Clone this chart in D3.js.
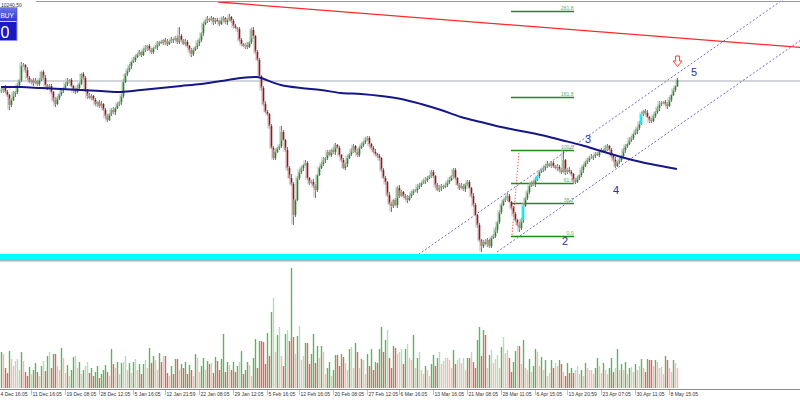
<!DOCTYPE html>
<html><head><meta charset="utf-8">
<script src="https://cdn.jsdelivr.net/npm/d3@7"></script>
<style>body{margin:0;background:#fff}svg{display:block}</style>
</head><body><svg id="c" width="800" height="400"></svg>
<script>
// ---------------- DATA ----------------
const firstOpen = 10130;
const closes = [
10140,10160,10120,10090,9990,10040,10100,10120,10190,10240,
10380,10390,10340,10260,10220,10240,10210,10230,10200,10240,
10320,10260,10190,10160,10180,10120,10040,10000,10060,10100,
10140,10160,10200,10230,10240,10180,10140,10120,10160,10200,
10300,10260,10140,10080,10060,10080,10040,10000,10020,9980,
10000,9940,9880,9840,9900,9940,9920,9960,10000,10020,
10080,10220,10300,10340,10380,10420,10440,10470,10500,10520,
10490,10540,10560,10580,10540,10520,10560,10570,10600,10620,
10610,10640,10620,10600,10630,10650,10640,10660,10620,10680,
10640,10600,10620,10580,10540,10500,10540,10570,10610,10640,
10710,10800,10830,10850,10840,10860,10820,10840,10830,10800,
10840,10860,10820,10840,10870,10830,10780,10760,10750,10640,
10600,10580,10590,10570,10620,10740,10680,10520,10440,10280,
10160,10000,9920,9900,9780,9560,9460,9520,9560,9580,
9720,9640,9540,9360,9260,9200,8890,9040,9260,9320,
9360,9390,9410,9260,9210,9220,9180,9140,9290,9360,
9400,9440,9460,9520,9490,9540,9520,9590,9560,9490,
9440,9360,9400,9460,9500,9540,9580,9520,9490,9560,
9590,9620,9640,9660,9600,9560,9520,9500,9480,9460,
9340,9260,9220,9090,9000,8980,9040,8990,9160,9080,
9120,9080,9060,9040,9080,9110,9130,9140,9170,9190,
9210,9230,9240,9260,9280,9320,9280,9190,9140,9160,
9180,9170,9190,9220,9240,9280,9340,9260,9190,9160,
9180,9150,9200,9220,9160,9080,8990,8890,8790,8640,
8580,8620,8600,8640,8580,8660,8680,8740,8820,8920,
8990,9040,9060,9080,9020,8960,8900,8840,8790,8760,
8840,8980,9060,9120,9180,9220,9200,9240,9280,9320,
9340,9360,9380,9400,9380,9410,9380,9360,9370,9340,
9320,9440,9320,9340,9320,9300,9240,9220,9260,9290,
9340,9380,9420,9440,9460,9470,9480,9500,9490,9520,
9540,9530,9560,9580,9540,9480,9440,9380,9420,9440,
9480,9540,9580,9600,9640,9660,9700,9730,9760,9800,
9900,9930,9910,9870,9840,9830,9880,9920,9960,10000,
10010,10020,10000,9980,10040,10090,10140,10180,10240];
const wickUp = [
20,10,30,20,10,20,30,10,20,10, 40,20,10,30,20,10,20,30,10,20,
10,20,30,10,20,20,10,30,20,10, 20,10,20,30,10,20,10,20,30,20,
10,20,20,10,30,20,10,20,10,20, 30,10,20,20,10,20,30,10,20,10,
20,30,10,20,20,10,30,20,10,20, 10,20,30,10,20,20,10,20,30,10,
20,10,20,30,10,20,10,20,30,90, 20,10,30,20,10,20,20,10,30,20,
10,20,20,30,10,20,10,20,20,10, 30,20,10,20,30,10,20,20,10,20,
20,10,20,30,10,20,30,10,20,20, 10,20,30,20,10,20,20,30,10,20,
60,20,10,30,20,40,20,10,20,30, 20,10,30,20,10,20,30,20,10,20,
20,30,10,20,20,10,30,20,10,20, 10,20,20,30,10,20,20,10,30,20,
20,10,30,20,20,10,20,30,10,20, 10,20,20,10,30,20,10,20,20,30,
20,10,20,30,10,20,20,10,30,20, 10,20,30,20,10,20,20,10,20,30,
20,10,20,20,30,10,20,20,10,20, 30,20,10,20,20,10,30,20,10,20,
10,20,30,20,10,20,20,30,10,20, 20,10,20,30,20,10,20,20,10,30,
20,30,10,20,20,10,20,30,10,20, 10,20,20,30,10,20,20,10,30,20,
20,100,10,20,30,20,10,20,20,10, 30,20,10,20,20,30,10,20,20,10,
20,10,30,20,10,20,20,30,10,20, 10,20,20,10,30,20,10,20,20,30,
20,10,20,30,10,20,20,10,20,30, 20,10,20,20,30,10,20,10,20];
const wickDn = [
20,30,10,20,50,20,10,30,20,10, 20,10,30,20,10,20,30,10,20,20,
10,20,30,20,10,20,20,30,10,20, 20,30,10,20,20,10,30,20,10,20,
10,20,20,30,10,20,10,20,30,20, 20,10,30,20,10,20,20,30,10,20,
30,20,10,20,20,30,10,20,10,20, 20,10,20,30,10,20,20,10,30,20,
10,20,30,20,10,20,30,10,20,20, 20,10,20,20,30,30,20,10,20,30,
20,30,10,20,20,10,30,20,10,20, 10,20,20,30,10,20,20,10,30,20,
20,10,30,20,10,20,30,20,10,20, 30,20,10,20,30,10,20,20,10,20,
20,10,20,30,10,20,100,20,10,20, 20,30,10,20,20,10,20,80,20,10,
10,20,30,20,10,20,20,30,10,20, 20,10,20,30,10,20,30,10,20,20,
10,20,20,10,30,20,10,20,20,30, 20,10,30,20,10,60,20,10,30,20,
10,20,20,30,10,20,20,10,30,20, 20,10,30,20,10,20,20,30,10,20,
30,20,10,20,20,10,30,20,10,20, 10,20,30,20,10,20,20,10,30,20,
60,20,10,30,20,20,10,20,30,20, 20,10,20,30,10,20,30,20,10,40,
20,30,10,20,20,10,20,30,10,20, 10,20,30,20,10,20,20,10,30,20,
20,10,30,20,10,20,30,20,10,20, 20,30,10,20,20,10,30,20,10,20,
10,20,20,30,10,20,20,20,10,20, 20,10,30,20,10,20,20,10,30,20,
10,20,20,10,30,20,10,20,20,30, 20,10,20,30,10,20,10,20,10];
const volumes = [
3600,3400,2000,1500,3700,2900,2200,2700,2900,1800, 3600,2700,1600,1200,2100,1400,1800,2500,1600,1200,
2200,2700,1700,3200,3600,2000,3400,3400,2200,1800, 4000,3000,1500,2300,1200,1800,3100,3200,2000,2600,
1400,1800,2200,2600,1500,2000,1200,1600,2200,1000, 1400,1800,2300,1600,1200,3900,2400,2000,2600,1400,
2500,2600,3200,1800,2500,1500,2600,2900,1800,2400, 1400,2400,2800,2000,4000,2500,3200,2800,1800,3500,
2600,3200,3200,1500,1200,2200,1400,2900,2900,1800, 2400,2000,2600,1400,2300,1800,1200,3400,3000,1600,
2200,3000,1800,2700,2400,2500,1500,3100,2700,1800, 2900,5400,1600,2600,2300,1800,2600,1600,2200,2600,
3700,1400,1800,2600,2300,1200,3000,4900,2000,4700, 4700,4600,2400,5500,3200,7600,9000,3600,5300,6100,
3200,2200,5400,5800,4700,12000,5100,3400,5200,6200, 2800,3200,4500,4500,2400,3400,5400,2500,4200,3000,
4200,3600,1400,2000,2600,1200,1800,3300,3300,2200, 3400,3100,2500,1800,3900,4100,2000,4500,3600,2000,
2900,2800,1400,3400,2200,3900,1800,2600,2500,3900, 6100,3600,4800,5800,3000,2000,4200,4000,3400,3600,
3900,2400,3900,4400,3000,2800,5300,2000,3000,3600, 1800,1400,2200,1800,1200,2400,3300,2200,3000,3600,
2400,2700,3000,3000,2800,2000,3800,2400,2800,3000, 2500,3000,1800,3000,3000,3600,2600,2000,4800,6100,
3200,5800,5300,2000,3300,3800,2500,2900,3300,2000, 4100,5100,3500,3800,3000,1600,2600,3700,4200,4200,
2400,4800,2000,1800,2900,1600,2200,3900,3600,2200, 3100,1800,2800,1200,1500,2800,2000,2500,2200,2800,
2400,1600,1200,2500,1500,2000,1500,1800,2200,1400, 1800,1200,2500,2000,1800,1800,1400,2000,3000,2200,
1500,2500,1800,1400,2000,3000,1600,2000,3900,1800, 2400,1800,2600,1400,2000,2100,1600,2400,1800,2200,
2900,2000,1600,2900,2800,2800,2200,2800,2600,2000, 2100,1400,3200,2800,2000,1600,2800,2500,2000];
const highlightBars = [261, 268, 320];
const maIdx = [0,10,20,30,40,50,60,70,80,90,100,110,120,128,130,140,150,160,170,180,190,200,210,220,230,240,250,260,270,280,290,300,310,320,330,338];
const maVals = [10170,10170,10160,10150,10140,10130,10120,10140,10160,10180,10200,10230,10260,10270,10260,10190,10160,10140,10110,10100,10080,10050,10000,9940,9870,9820,9770,9730,9690,9640,9590,9530,9470,9420,9380,9350];
const timeLabels = ["4 Dec 16:05","11 Dec 16:05","19 Dec 08:05","28 Dec 12:05","5 Jan 16:05","12 Jan 21:59","22 Jan 08:05","29 Jan 12:05","5 Feb 16:05","12 Feb 16:05","20 Feb 08:05","27 Feb 12:05","6 Mar 16:05","13 Mar 16:05","21 Mar 08:05","28 Mar 11:05","6 Apr 15:05","13 Apr 20:59","23 Apr 07:05","30 Apr 11:05","8 May 15:05"];
const timeLabelIdx = [0,16,33,50,67,83,100,117,134,150,167,184,200,217,234,251,268,284,301,318,335];
const fibLevels = [0, 38.2, 61.8, 100, 161.8, 261.8];
const fibLow = 8680, fibHigh = 9540, fibFromIdx = 255, fibToIdx = 286.5;
const fibDiag = [[255.5, 8690], [259, 9520]];
const channelUpper = [[205.5, 8450], [400, 11170]];
const channelLower = [[248, 8520], [400, 10640]];
const trendLine = [[108.5, 11020], [400, 10565]];
const waveLabels = [{t:"2", i:282, p:8630}, {t:"3", i:293.5, p:9655}, {t:"4", i:307.5, p:9145}, {t:"5", i:346.5, p:10320}];
const arrowMark = {i:338.3, p:10480};
const bidText = "10240.50";
const cyanLevel = 8475;

// ---------------- DRAW ----------------
const svg = d3.select("#c");
const x = d3.scaleLinear().domain([0, 338]).range([1, 677]);
const y = d3.scaleLinear().domain([11040, 8490]).range([0, 255]);
const yv = d3.scaleLinear().domain([0, 12000]).range([388, 268]);
const FONT = "Liberation Sans, Arial, sans-serif";

const bars = closes.map((c, i) => {
  const o = i === 0 ? firstOpen : closes[i - 1];
  return {i, o, c, h: Math.max(o, c) + wickUp[i], l: Math.min(o, c) - wickDn[i], v: volumes[i]};
});

const defs = svg.append("defs");
defs.append("clipPath").attr("id", "mainClip")
  .append("rect").attr("x", 0).attr("y", 0).attr("width", 800).attr("height", 254);
const main = svg.append("g").attr("clip-path", "url(#mainClip)");

// top border & bid line
svg.append("line").attr("x1", 36).attr("x2", 800).attr("y1", 1.5).attr("y2", 1.5).attr("stroke", "#9a9a9a").attr("stroke-width", 1);
main.append("line").attr("x1", 0).attr("x2", 800)
  .attr("y1", y(closes[closes.length - 1]) + 1).attr("y2", y(closes[closes.length - 1]) + 1)
  .attr("stroke", "#d2d6da").attr("stroke-width", 2);

// red trend line
main.append("line").attr("x1", x(trendLine[0][0])).attr("y1", y(trendLine[0][1]))
  .attr("x2", x(trendLine[1][0])).attr("y2", y(trendLine[1][1]))
  .attr("stroke", "#ff2a2a").attr("stroke-width", 1.3);

// channel
[channelUpper, channelLower].forEach(ch => {
  main.append("line").attr("x1", x(ch[0][0])).attr("y1", y(ch[0][1]))
    .attr("x2", x(ch[1][0])).attr("y2", y(ch[1][1]))
    .attr("stroke", "#6a6ad6").attr("stroke-width", 1).attr("stroke-dasharray", "2,2");
});

// fibonacci
main.append("line").attr("x1", x(fibDiag[0][0])).attr("y1", y(fibDiag[0][1]))
  .attr("x2", x(fibDiag[1][0])).attr("y2", y(fibDiag[1][1]))
  .attr("stroke", "#ff5a5a").attr("stroke-width", 1).attr("stroke-dasharray", "1.5,1.5");
fibLevels.forEach(lv => {
  const py = Math.round(y(fibLow + (fibHigh - fibLow) * lv / 100)) + 0.5;
  main.append("line").attr("x1", x(fibFromIdx)).attr("x2", x(fibToIdx)).attr("y1", py).attr("y2", py)
    .attr("stroke", "#1f8a1f").attr("stroke-width", 1.5);
  main.append("text").attr("x", x(fibToIdx) - 0.5).attr("y", py - 1.8).attr("text-anchor", "end")
    .attr("font-family", FONT).attr("font-size", 5)
    .attr("fill", "#5fae5f").text(lv.toFixed(1));
});

// candles
const cg = main.append("g");
bars.forEach(b => {
  const cx = x(b.i);
  const yh = y(b.h), yl = y(b.l);
  cg.append("rect").attr("x", cx - 1.6).attr("y", yh + 0.5).attr("width", 1.2)
    .attr("height", Math.max(1, yl - yh - 1)).attr("fill", "#c4c4c4");
  cg.append("line").attr("x1", cx + 0.5).attr("x2", cx + 0.5).attr("y1", yh).attr("y2", yl)
    .attr("stroke", "#555").attr("stroke-width", 0.8);
  const top = y(Math.max(b.o, b.c)), bot = y(Math.min(b.o, b.c));
  const hl = highlightBars.includes(b.i);
  const col = hl ? "#00eaf6" : (b.c >= b.o ? "#1c8c1c" : "#a01212");
  cg.append("rect").attr("x", hl ? cx - 0.8 : cx - 0.3).attr("y", top).attr("width", hl ? 2.2 : 1.6)
    .attr("height", Math.max(1, bot - top)).attr("fill", col);
});

// moving average
main.append("path").datum(maIdx.map((d, k) => [d, maVals[k]]))
  .attr("d", d3.line().x(d => x(d[0])).y(d => y(d[1])).curve(d3.curveCatmullRom))
  .attr("fill", "none").attr("stroke", "#16168a").attr("stroke-width", 2);

// wave labels
waveLabels.forEach(w => {
  main.append("text").attr("x", x(w.i)).attr("y", y(w.p)).attr("text-anchor", "middle")
    .attr("dominant-baseline", "central").attr("font-family", FONT)
    .attr("font-size", 11).attr("fill", "#2e2e9e").text(w.t);
});

// down arrow
{
  const ax = x(arrowMark.i), ay = y(arrowMark.p);
  main.append("path")
    .attr("d", `M${ax-2},${ay} L${ax+2},${ay} L${ax+2},${ay+5} L${ax+4.5},${ay+5} L${ax},${ay+10.5} L${ax-4.5},${ay+5} L${ax-2},${ay+5} Z`)
    .attr("fill", "#fff").attr("stroke", "#ff3a2a").attr("stroke-width", 1);
}

// price text & BUY panel
svg.append("text").attr("x", 1).attr("y", 7).attr("font-family", FONT)
  .attr("font-size", 5).attr("fill", "#333").text(bidText);
const grad = defs.append("linearGradient").attr("id", "bg").attr("x1", 0).attr("x2", 0).attr("y1", 0).attr("y2", 1);
grad.append("stop").attr("offset", "0%").attr("stop-color", "#6a72ea");
grad.append("stop").attr("offset", "100%").attr("stop-color", "#2c32cc");
svg.append("rect").attr("x", -20).attr("y", 7.5).attr("width", 37).attr("height", 33)
  .attr("fill", "#1a1ac0").attr("stroke", "#8a90ff").attr("stroke-width", 1);
svg.append("rect").attr("x", -20).attr("y", 8).attr("width", 36.5).attr("height", 13.5).attr("fill", "url(#bg)");
svg.append("line").attr("x1", -20).attr("x2", 16.5).attr("y1", 21.5).attr("y2", 21.5).attr("stroke", "#c8ccff");
svg.append("text").attr("x", 0.5).attr("y", 18).attr("font-family", FONT)
  .attr("font-size", 6.5).attr("fill", "#fff").text("BUY");
svg.append("text").attr("x", 0.5).attr("y", 37.5).attr("font-family", FONT)
  .attr("font-size", 16).attr("fill", "#fff").text("0");

// cyan level band and separators
svg.append("line").attr("x1", 0).attr("x2", 800).attr("y1", y(cyanLevel)).attr("y2", y(cyanLevel))
  .attr("stroke", "#00ffff").attr("stroke-width", 5);
svg.append("line").attr("x1", 0).attr("x2", 800).attr("y1", 260).attr("y2", 260).attr("stroke", "#4f6c6c").attr("stroke-width", 1);
svg.append("line").attr("x1", 0).attr("x2", 800).attr("y1", 261.5).attr("y2", 261.5).attr("stroke", "#d6d6d6").attr("stroke-width", 1);

// volumes: green family when volume rises (strong rise = saturated), red family when it falls
const vg = svg.append("g");
bars.forEach(b => {
  const prev = b.i > 0 ? volumes[b.i - 1] : 0;
  const up = b.c >= b.o;
  let col;
  if (b.v > prev) col = b.v > 1.25 * prev ? "#5cb45c" : "#b8dcb8";
  else col = up ? "#ffb4b4" : "#f05c5c";
  vg.append("rect").attr("x", x(b.i) - 0.2).attr("y", yv(b.v)).attr("width", 1.4)
    .attr("height", yv(0) - yv(b.v)).attr("fill", col);
});

// x axis
svg.append("line").attr("x1", 0).attr("x2", 800).attr("y1", 389.5).attr("y2", 389.5).attr("stroke", "#8c8c8c").attr("stroke-width", 1);
timeLabels.forEach((t, k) => {
  const lx = x(timeLabelIdx[k]);
  svg.append("line").attr("x1", lx - 1.5).attr("x2", lx - 1.5).attr("y1", 390).attr("y2", 395).attr("stroke", "#9a9a9a").attr("stroke-width", 0.6);
  svg.append("text").attr("x", lx - 0.5).attr("y", 396).attr("font-family", FONT)
    .attr("font-size", 5).attr("fill", "#333").text(t);
});
</script></body></html>
